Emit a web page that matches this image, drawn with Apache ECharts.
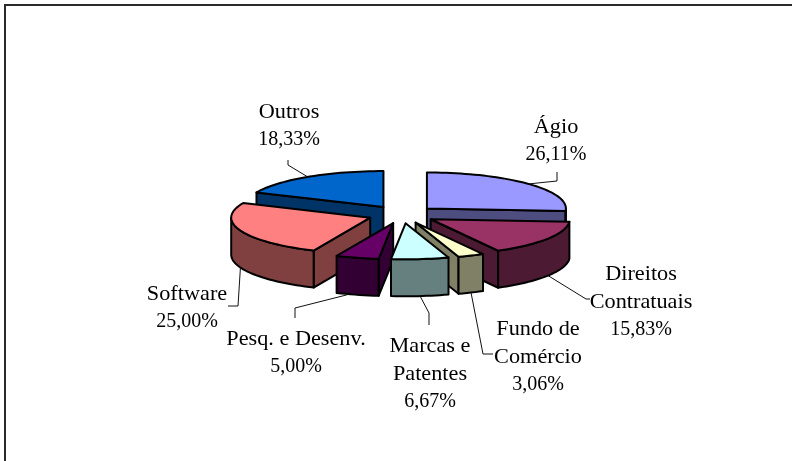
<!DOCTYPE html>
<html><head><meta charset="utf-8">
<style>html,body{margin:0;padding:0;background:#fff}#c{width:792px;height:461px}</style>
<script src="https://cdn.jsdelivr.net/npm/echarts@6/dist/echarts.min.js"></script>
</head><body><div id="c"></div>
<script>
const categories = ['Ágio','Direitos\nContratuais','Fundo de\nComércio','Marcas e\nPatentes','Pesq. e Desenv.','Software','Outros'];
const values = [26.11,15.83,3.06,6.67,5.00,25.00,18.33];
const percentLabels = ['26,11%','15,83%','3,06%','6,67%','5,00%','25,00%','18,33%'];

const topColors  = ['#9999ff','#993366','#ffffcc','#ccffff','#660066','#ff8080','#0066cc'];
const sideColors = ['#4d4d80','#4d1a33','#808066','#668080','#330033','#804040','#003366'];
// layout: chart geometry and label placement
const cx=402, cy=214.5, rx=139, ry=36, depth=37, explode=0.245;
const labelCenters=[[556,141],[641,302],[538,357],[430,374],[296,353],[187,308],[289,126]];
const labelElbows=[
 [[557,181],[557,172]],
 [[586,299],[590,299]],
 [[483,354],[493,354]],
 [[429,313],[429,325]],
 [[295,308],[295,318]],
 [[238,306],[228,306]],
 [[288,165],[288,160]]
];
const anchorShift=[0,0,0,0,-10,0,0];
const total=values.reduce((a,b)=>a+b,0);
const rad=d=>d*Math.PI/180;
const pt=(o,a,dy)=>[o[0]+rx*Math.sin(a),o[1]-ry*Math.cos(a)+(dy||0)];
function arcPts(o,a0,a1,dy){
  const n=Math.max(2,Math.ceil((a1-a0)/rad(2))),p=[];
  for(let i=0;i<=n;i++)p.push(pt(o,a0+(a1-a0)*i/n,dy));
  return p;
}
const edge={stroke:'#000',lineWidth:2,lineJoin:'round'};
function renderItem(params,api){
  const i=params.dataIndex, v=api.value(1);
  let before=0; for(let k=0;k<i;k++)before+=values[k];
  const a0=rad(before/total*360), a1=rad((before+v)/total*360), mid=(a0+a1)/2;
  const o=[cx+explode*rx*Math.sin(mid), cy-explode*ry*Math.cos(mid)];
  const order=values.map((_,k)=>{let b=0;for(let j=0;j<k;j++)b+=values[j];
    return {k,c:-Math.cos(rad((b+values[k]/2)/total*360))};}).sort((p,q)=>p.c-q.c).findIndex(e=>e.k===i);
  const z=(order+1)*10, ch=[];
  const poly=(pts,fill,zz)=>ch.push({type:'polygon',z2:zz,shape:{points:pts},style:Object.assign({fill},edge)});
  const radial=a=>{const p=pt(o,a);poly([o,p,[p[0],p[1]+depth],[o[0],o[1]+depth]],sideColors[i],z);};
  if(Math.sin(a1)>0.001)radial(a1);
  if(Math.sin(a0)<-0.001)radial(a0);
  const f0=Math.max(a0,Math.PI/2), f1=Math.min(a1,Math.PI*1.5);
  if(f1>f0){
    const t=arcPts(o,f0,f1,0), b=arcPts(o,f0,f1,depth).reverse();
    poly(t.concat(b),sideColors[i],z+1);
  }
  poly([o].concat(arcPts(o,a0,a1,0)),topColors[i],z+2);
  // leader
  const anc=pt(o,mid,Math.cos(mid)<0?depth:0);
  const anchor=[anc[0]+anchorShift[i],anc[1]];
  ch.push({type:'polyline',z2:200,shape:{points:[anchor].concat(labelElbows[i])},style:{fill:null,stroke:'#111',lineWidth:1}});
  // label: name lines slightly stretched, percentage line narrower as in the reference
  const lines=categories[i].split('\n').concat(percentLabels[i]);
  lines.forEach((t,j)=>{
    const isPct=j===lines.length-1;
    ch.push({type:'text',z2:201,x:labelCenters[i][0],y:labelCenters[i][1]+(j-(lines.length-1)/2)*28,
      scaleX:isPct?1:1.06,style:{text:t,x:0,y:0,align:'center',verticalAlign:'middle',
      font:(isPct?'20':'21')+'px "Liberation Serif"',fill:'#000'}});
  });
  return {type:'group',children:ch};
}
const chart=echarts.init(document.getElementById('c'),null,{renderer:'canvas'});
chart.setOption({
  animation:false,
  backgroundColor:'#fff',
  graphic:[{type:'rect',z:-1,shape:{x:5,y:5,width:820,height:490},style:{fill:'#fff',stroke:'#2b2b2b',lineWidth:2}}],
  series:[{type:'custom',coordinateSystem:'none',renderItem,
    data:values.map((v,i)=>({name:categories[i],value:[i,v]}))}]
});
</script></body></html>
